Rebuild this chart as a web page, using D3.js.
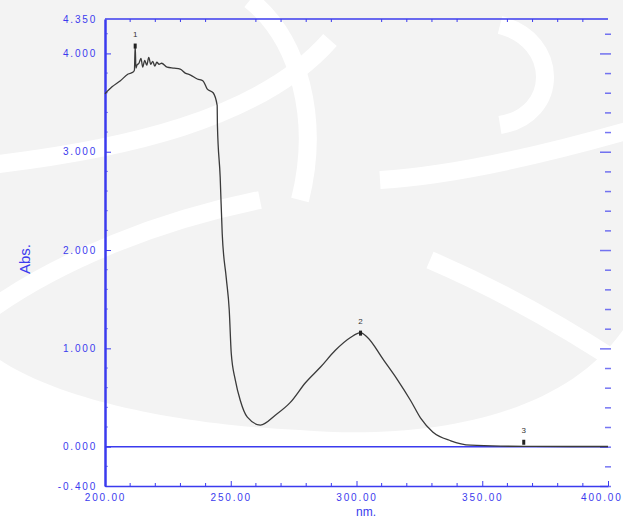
<!DOCTYPE html>
<html>
<head>
<meta charset="utf-8">
<script src="https://cdn.jsdelivr.net/npm/d3@7"></script>
<style>
  body { margin: 0; background: #fff; }
  svg { display: block; }
  .tick text { font-family: "Liberation Sans", Arial, sans-serif; }
</style>
</head>
<body>
<svg width="623" height="518"></svg>
<script>
// spectrum (nm, Abs.)
const wavelengths = [200.0, 202.8, 206.0, 209.2, 211.2, 211.7, 212.0, 212.3, 212.7, 213.5, 214.3, 215.0, 215.8, 216.6, 217.4, 218.2, 219.0, 219.8, 220.6, 221.5, 222.5, 224.7, 227.5, 229.9, 231.9, 234.0, 236.7, 239.0, 240.6, 243.0, 244.6, 244.7, 245.8, 246.6, 248.2, 249.4, 250.2, 251.8, 253.8, 256.6, 261.8, 267.7, 273.7, 279.7, 285.7, 291.6, 297.6, 301.6, 304.4, 310.8, 316.3, 321.5, 325.5, 330.3, 337.5, 345.4, 357.4, 370.0, 385.0, 400.0];
const absorbance = [3.59, 3.66, 3.72, 3.79, 3.81, 3.83, 4.08, 3.85, 3.88, 3.90, 3.95, 3.86, 3.93, 3.88, 3.96, 3.89, 3.92, 3.87, 3.91, 3.89, 3.90, 3.86, 3.85, 3.84, 3.80, 3.78, 3.74, 3.72, 3.64, 3.60, 3.47, 3.27, 2.74, 2.17, 1.72, 1.39, 0.95, 0.68, 0.47, 0.30, 0.22, 0.32, 0.45, 0.65, 0.81, 0.98, 1.11, 1.16, 1.11, 0.88, 0.68, 0.47, 0.29, 0.15, 0.06, 0.015, 0.005, 0.003, 0.002, 0.002];

// peak pick marks
const peakNm = [212.0, 301.6, 366.5];
const peakAbs = [4.08, 1.16, 0.05];
const peakLabels = ["1", "2", "3"];

const yTicks = [-0.4, 0, 1, 2, 3, 4, 4.35];
const yMinor = [-0.2, 0.2, 0.4, 0.6, 0.8, 1.2, 1.4, 1.6, 1.8, 2.2, 2.4, 2.6, 2.8, 3.2, 3.4, 3.6, 3.8, 4.2];
const xTicks = [200, 250, 300, 350, 400];
const xMinor = d3.range(210, 400, 10).filter(v => v % 50 !== 0);

const blue = "#3b3bee";
const svg = d3.select("svg");

const plotLeft = 105, plotRight = 608, plotTop = 19, plotBottom = 486;
const x = d3.scaleLinear().domain([200, 400]).range([plotLeft, plotRight]);
const y = d3.scaleLinear().domain([-0.4, 4.35]).range([plotBottom, plotTop]);

// faint watermark behind the plot
const wm = svg.append("g");
wm.append("path")
  .attr("d", "M0,0 H623 V330 C560,420 420,440 300,430 C180,425 60,400 0,360 Z")
  .attr("fill", "#f3f3f3");
wm.selectAll("path.band")
  .data([
    "M-10,165 C120,150 260,120 330,40",
    "M-10,310 C60,260 160,220 260,200",
    "M500,25 C560,40 560,115 500,125",
    "M380,180 C460,175 560,150 630,130",
    "M430,260 C500,290 570,330 630,370",
    "M250,0 C300,40 320,120 300,200"
  ])
  .join("path")
  .attr("class", "band")
  .attr("d", d => d)
  .attr("fill", "none")
  .attr("stroke", "#fff")
  .attr("stroke-width", 18);

// zero line
svg.append("line")
  .attr("x1", plotLeft).attr("x2", plotRight)
  .attr("y1", y(0)).attr("y2", y(0))
  .attr("stroke", blue).attr("stroke-width", 1.5);

// top border with small ticks
svg.append("line")
  .attr("x1", plotLeft).attr("x2", plotRight)
  .attr("y1", plotTop).attr("y2", plotTop)
  .attr("stroke", blue).attr("stroke-width", 1.5);
svg.append("g")
  .selectAll("line")
  .data(xMinor)
  .join("line")
  .attr("x1", d => x(d)).attr("x2", d => x(d))
  .attr("y1", plotTop).attr("y2", plotTop + 3)
  .attr("stroke", blue);

// bottom axis
const xAxis = svg.append("g")
  .attr("transform", `translate(0,${plotBottom})`)
  .call(d3.axisBottom(x).tickValues(xTicks).tickFormat(d => d.toFixed(2))
    .tickSizeInner(-5).tickSizeOuter(0).tickPadding(8));
svg.append("g")
  .selectAll("line")
  .data(xMinor)
  .join("line")
  .attr("x1", d => x(d)).attr("x2", d => x(d))
  .attr("y1", plotBottom).attr("y2", plotBottom - 3)
  .attr("stroke", blue);

// left axis
const yAxis = svg.append("g")
  .attr("transform", `translate(${plotLeft},0)`)
  .call(d3.axisLeft(y).tickValues(yTicks).tickFormat(d => d.toFixed(3))
    .tickSizeInner(-6).tickSizeOuter(0).tickPadding(8));
svg.append("g")
  .selectAll("line")
  .data(yMinor)
  .join("line")
  .attr("x1", plotLeft).attr("x2", plotLeft + 3)
  .attr("y1", d => y(d)).attr("y2", d => y(d))
  .attr("stroke", blue).attr("opacity", 0.6);

[xAxis, yAxis].forEach(g => {
  g.select(".domain").attr("stroke", blue).attr("stroke-width", 1.5);
  g.selectAll(".tick line").attr("stroke", blue);
  g.selectAll(".tick text")
    .attr("fill", blue)
    .attr("font-size", 10)
    .attr("letter-spacing", 1.8);
});
yAxis.select(".domain").attr("stroke-width", 2.5);
yAxis.selectAll(".tick").filter(d => d === 4.35).select("line").remove();
// last x label is kept inside the window
xAxis.selectAll(".tick").filter(d => d === 400).select("text")
  .attr("text-anchor", "end").attr("x", 14);

// right side ticks, no line
const rightTicks = svg.append("g").attr("transform", `translate(${plotRight + 3},0)`);
rightTicks.call(d3.axisLeft(y).tickValues(yTicks.slice(0, 6)).tickFormat("").tickSize(11).tickSizeOuter(0));
rightTicks.append("g").call(d3.axisLeft(y).tickValues(yMinor).tickFormat("").tickSize(6).tickSizeOuter(0));
rightTicks.selectAll(".domain").remove();
rightTicks.selectAll(".tick line").attr("stroke", blue).attr("stroke-width", 1.5).attr("opacity", 0.7);

// axis titles
svg.append("text")
  .attr("transform", "translate(30,259) rotate(-90)")
  .attr("text-anchor", "middle")
  .attr("font-family", "Liberation Sans, Arial, sans-serif")
  .attr("font-size", 15)
  .attr("fill", blue)
  .text("Abs.");
svg.append("text")
  .attr("x", 366).attr("y", 516)
  .attr("text-anchor", "middle")
  .attr("font-family", "Liberation Sans, Arial, sans-serif")
  .attr("font-size", 12)
  .attr("fill", blue)
  .text("nm.");

// spectrum
const line = d3.line()
  .x((d, i) => x(wavelengths[i]))
  .y(d => y(d))
  .curve(d3.curveMonotoneX);
svg.append("path")
  .datum(absorbance)
  .attr("d", line)
  .attr("fill", "none")
  .attr("stroke", "#3a3a3a")
  .attr("stroke-width", 1.3);

// peak pick marks and numbers
const peaks = svg.append("g");
peaks.selectAll("rect")
  .data(peakNm)
  .join("rect")
  .attr("x", d => x(d) - 1.5)
  .attr("y", (d, i) => y(peakAbs[i]) - 2)
  .attr("width", 3).attr("height", 5)
  .attr("fill", "#222");
peaks.selectAll("text")
  .data(peakLabels)
  .join("text")
  .attr("x", (d, i) => x(peakNm[i]))
  .attr("y", (d, i) => y(peakAbs[i]) - 9)
  .attr("text-anchor", "middle")
  .attr("font-family", "Liberation Sans, Arial, sans-serif")
  .attr("font-size", 8)
  .attr("fill", "#333")
  .text(d => d);
</script>
</body>
</html>
